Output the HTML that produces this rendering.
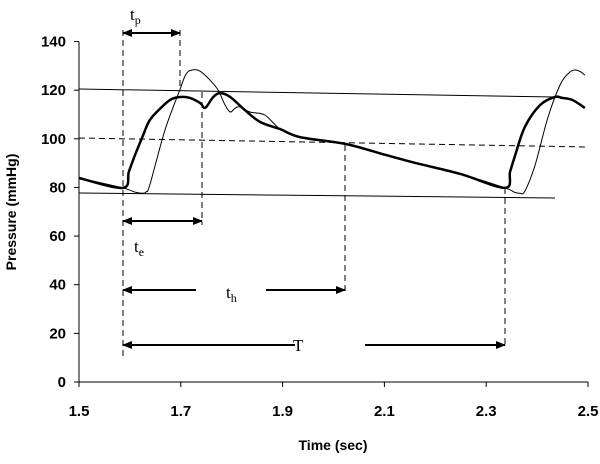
<!DOCTYPE html>
<html><head><meta charset="utf-8"><style>
body{margin:0;background:#fff}
</style></head><body>
<svg width="600" height="459" viewBox="0 0 600 459" xmlns="http://www.w3.org/2000/svg" font-family="Liberation Sans, sans-serif">
<defs>
<marker id="ah" markerWidth="10" markerHeight="10" refX="9" refY="5" orient="auto-start-reverse" markerUnits="userSpaceOnUse"><path d="M0,1 L10,5 L0,9 z" fill="#000"/></marker>
</defs>
<g id="axes"></g>
<g id="marks"></g>
<g id="ann"></g>
</svg>
<script>
const xTicks=[1.5,1.7,1.9,2.1,2.3,2.5];
const yTicks=[0,20,40,60,80,100,120,140];
const thickT=[1.5,1.586,1.598,1.610,1.625,1.639,1.660,1.679,1.698,1.718,1.738,1.748,1.763,1.777,1.797,1.826,1.856,1.895,1.934,2.023,2.10,2.17,2.25,2.337,2.347,2.357,2.376,2.406,2.435,2.449,2.469,2.494];
const thickP=[83.9,79.8,86.5,93.3,101,107.7,112.5,116.0,117.2,116.8,114.7,112.7,117.0,118.8,117.2,111.8,106.9,104.0,100.7,97.9,93.5,89.6,85.5,79.8,86.5,93.3,104.9,113.9,117.2,116.8,116.0,112.7];
const thinT=[1.5,1.586,1.610,1.625,1.632,1.639,1.669,1.698,1.710,1.722,1.738,1.757,1.773,1.787,1.797,1.806,1.816,1.836,1.865,1.895,1.934,2.023,2.10,2.17,2.25,2.337,2.355,2.366,2.376,2.396,2.421,2.445,2.462,2.474,2.486,2.494];
const thinP=[83.9,79.8,78.1,77.6,78.2,81.0,103.6,120.1,126.5,128.3,127.8,124.2,120.1,113.9,111.0,112.5,113.1,111.0,109.8,104.0,100.7,97.9,93.5,89.6,85.5,79.8,78.1,77.6,78.5,89.2,108.6,122.1,127.0,128.3,127.5,126.2];
const X=t=>79+(t-1.5)*509;
const Y=p=>382-p*2.432;
const NS="http://www.w3.org/2000/svg";
function mk(tag,attrs,parent,txt){const e=document.createElementNS(NS,tag);for(const k in attrs)e.setAttribute(k,attrs[k]);if(txt!==undefined)e.textContent=txt;document.getElementById(parent).appendChild(e);return e;}
let e;
e=mk('line',{x1:79,y1:Y(0),x2:588,y2:Y(0),stroke:'#000','stroke-width':1},'axes');


e=mk('line',{x1:79,y1:Y(0),x2:79,y2:Y(140),stroke:'#000','stroke-width':1},'axes');


xTicks.forEach(v=>{
 e=mk('line',{x1:X(v),y1:Y(0),x2:X(v),y2:Y(0)+5,stroke:'#000'},'axes');
 
 
 e=mk('text',{x:X(v),y:416,'text-anchor':'middle','font-size':15,'font-weight':'bold'},'axes',v.toFixed(1));
 
 
});
yTicks.forEach(v=>{
 e=mk('line',{x1:74,y1:Y(v),x2:79,y2:Y(v),stroke:'#000'},'axes');
 
 
 e=mk('text',{x:66,y:Y(v)+5,'text-anchor':'end','font-size':15,'font-weight':'bold'},'axes',String(v));
 
 
});
e=mk('text',{x:333,y:450,'text-anchor':'middle','font-size':14,'font-weight':'bold'},'axes','Time (sec)');


e=mk('text',{x:0,y:0,'text-anchor':'middle','font-size':14,'font-weight':'bold',transform:'translate(16,212) rotate(-90)'},'axes','Pressure (mmHg)');


function smooth(T,P){
 const pts=T.map((t,i)=>[X(t),Y(P[i])]);
 let d='M'+pts[0][0].toFixed(1)+','+pts[0][1].toFixed(1);
 for(let i=0;i<pts.length-1;i++){
  const p0=pts[Math.max(0,i-1)],p1=pts[i],p2=pts[i+1],p3=pts[Math.min(pts.length-1,i+2)];
  const k=1/6;
  const c1=[p1[0]+(p2[0]-p0[0])*k,p1[1]+(p2[1]-p0[1])*k];
  const c2=[p2[0]-(p3[0]-p1[0])*k,p2[1]-(p3[1]-p1[1])*k];
  d+=' C'+c1.map(v=>v.toFixed(1)).join(',')+' '+c2.map(v=>v.toFixed(1)).join(',')+' '+p2.map(v=>v.toFixed(1)).join(',');
 }
 return d;
}
e=mk('path',{d:smooth(thinT,thinP),fill:'none',stroke:'#000','stroke-width':1,'stroke-linejoin':'round'},'marks');


e=mk('path',{d:smooth(thickT,thickP),fill:'none',stroke:'#000','stroke-width':2.5,'stroke-linejoin':'round'},'marks');


e=mk('line',{x1:79,y1:89,x2:555,y2:97,stroke:'#000'},'ann');


e=mk('line',{x1:79,y1:193,x2:555,y2:198,stroke:'#000'},'ann');


e=mk('line',{x1:79,y1:138,x2:588,y2:147,stroke:'#000','stroke-dasharray':'6,4'},'ann');


[[123,30,360],[180,30,88],[202,92,225],[345,145,293],[505,188,345]].forEach(v=>{
 e=mk('line',{x1:v[0],y1:v[1],x2:v[0],y2:v[2],stroke:'#000','stroke-dasharray':'6,4'},'ann');
 
 
});
e=mk('line',{x1:123,y1:33,x2:180,y2:33,stroke:'#000','stroke-width':2,'marker-start':'url(#ah)','marker-end':'url(#ah)'},'ann');


e=mk('line',{x1:123,y1:221,x2:202,y2:221,stroke:'#000','stroke-width':2,'marker-start':'url(#ah)','marker-end':'url(#ah)'},'ann');


e=mk('line',{x1:123,y1:290,x2:196,y2:290,stroke:'#000','stroke-width':2,'marker-start':'url(#ah)'},'ann');


e=mk('line',{x1:266,y1:290,x2:345,y2:290,stroke:'#000','stroke-width':2,'marker-end':'url(#ah)'},'ann');


e=mk('line',{x1:123,y1:345,x2:295,y2:345,stroke:'#000','stroke-width':2,'marker-start':'url(#ah)'},'ann');


e=mk('line',{x1:365,y1:345,x2:505,y2:345,stroke:'#000','stroke-width':2,'marker-end':'url(#ah)'},'ann');


function lab(x,y,m,s){e=mk('text',{x:x,y:y,'font-size':17,'font-family':'Liberation Serif, serif'},'ann');
 const a=document.createElementNS(NS,'tspan');a.textContent=m;e.appendChild(a);
 if(s){const b=document.createElementNS(NS,'tspan');b.setAttribute('font-size',12);b.setAttribute('dy',4);b.textContent=s;e.appendChild(b);}
 return e;}
e=lab(130,20,'t','p');


e=lab(134,252,'t','e');


e=lab(226,298,'t','h');


e=lab(293,351,'T','');


</script>
</body></html>
